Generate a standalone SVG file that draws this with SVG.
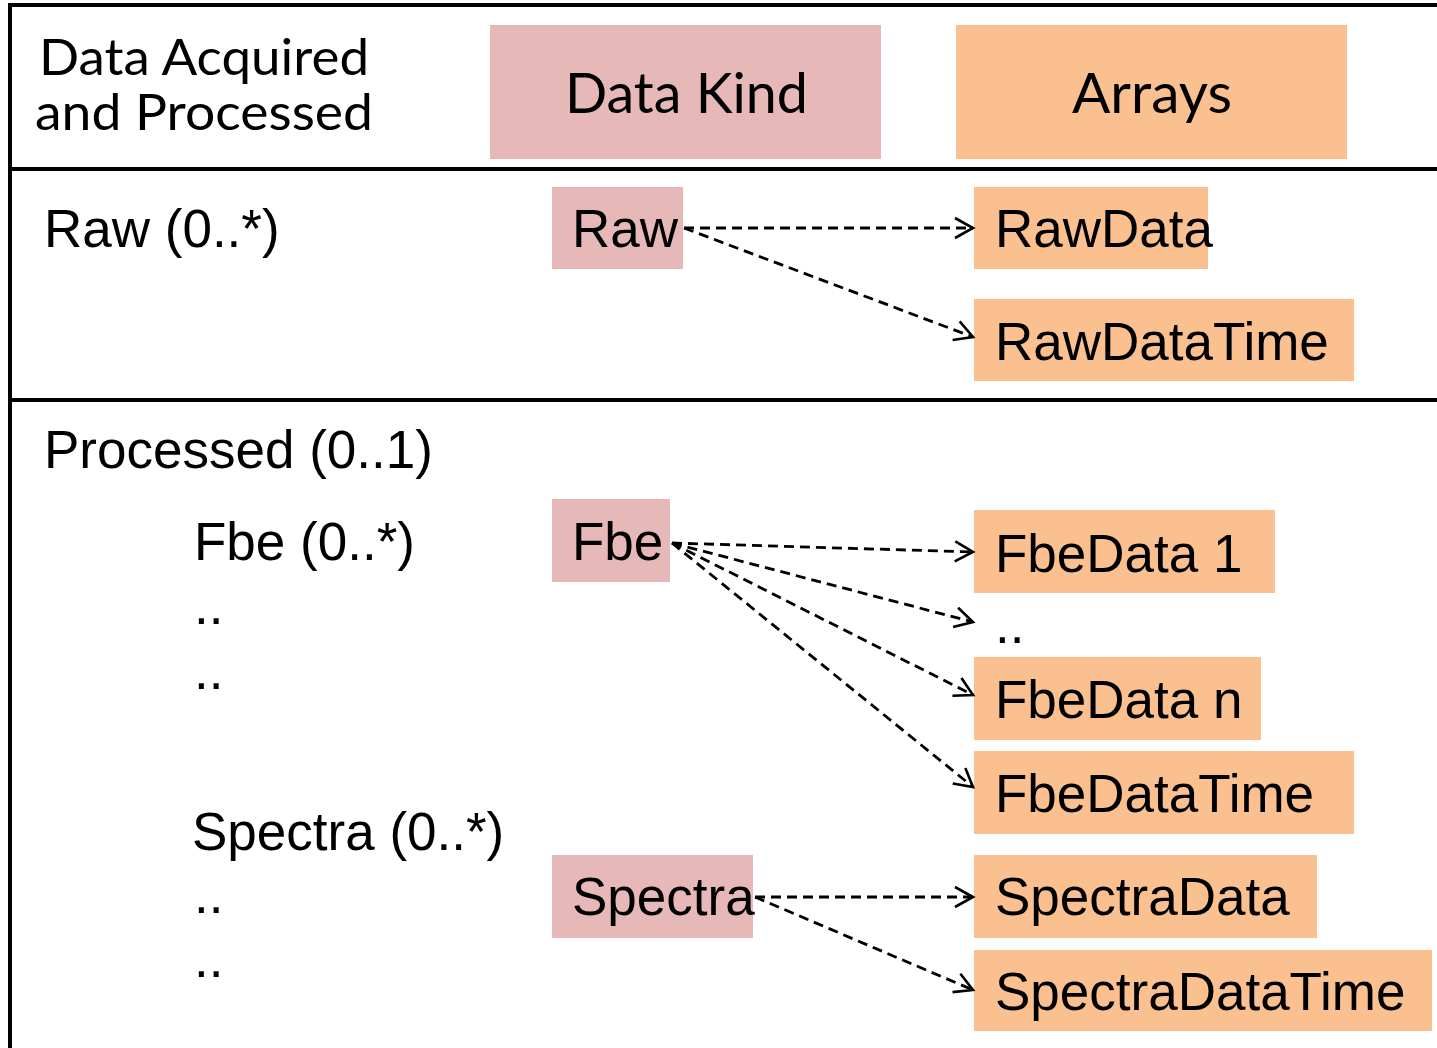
<svg xmlns="http://www.w3.org/2000/svg" width="1437" height="1048" viewBox="0 0 1437 1048">
<defs>
<style>
.frame{stroke:#000;stroke-width:4;fill:none}
.kind{fill:#E6B8B7}
.arr{fill:#FAC090}
.hdr{font-family:Lato,"Open Sans","Liberation Sans",sans-serif;fill:#000}
.lbl{font-family:"Liberation Sans",Arial,sans-serif;font-size:53px;fill:#000}
.con{stroke:#000;stroke-width:2.8;fill:none;stroke-dasharray:10 6;marker-end:url(#open)}
</style>
<marker id="open" markerUnits="userSpaceOnUse" markerWidth="24" markerHeight="26" refX="20" refY="12" orient="auto">
<path d="M2,2 L20,12 L2,22" fill="none" stroke="#000" stroke-width="2.6"/>
</marker>
</defs>
<rect width="1437" height="1048" fill="#fff"/>
<g id="frame">
<line class="frame" x1="8" y1="5" x2="1437" y2="5"/>
<line class="frame" x1="10" y1="3" x2="10" y2="1048"/>
<line class="frame" x1="8" y1="169" x2="1437" y2="169"/>
<line class="frame" x1="8" y1="400" x2="1437" y2="400"/>
</g>
<g id="header-title">
<text class="hdr" x="39" y="75" font-size="50" textLength="330" lengthAdjust="spacingAndGlyphs">Data Acquired</text>
<text class="hdr" x="35" y="130" font-size="50" textLength="338" lengthAdjust="spacingAndGlyphs">and Processed</text>
</g>
<g id="header-kind">
<rect class="kind" x="490" y="25" width="391" height="134"/>
<text class="hdr" x="565" y="113" font-size="57" textLength="243" lengthAdjust="spacingAndGlyphs">Data Kind</text>
</g>
<g id="header-arrays">
<rect class="arr" x="956" y="25" width="391" height="134"/>
<text class="hdr" x="1072" y="113" font-size="57" textLength="160" lengthAdjust="spacingAndGlyphs">Arrays</text>
</g>
<g id="labels">
<text class="lbl" x="44" y="247">Raw (0..*)</text>
<text class="lbl" x="44" y="468">Processed (0..1)</text>
<text class="lbl" x="194" y="560">Fbe (0..*)</text>
<text class="lbl" x="194" y="624">..</text>
<text class="lbl" x="194" y="689">..</text>
<text class="lbl" x="192" y="850">Spectra (0..*)</text>
<text class="lbl" x="194" y="913">..</text>
<text class="lbl" x="194" y="977">..</text>
<text class="lbl" x="995" y="643">..</text>
</g>
<g id="raw">
<rect class="kind" x="552" y="187" width="131" height="82"/>
<text class="lbl" x="572" y="247">Raw</text>
</g>
<g id="rawdata">
<rect class="arr" x="974" y="187" width="234" height="82"/>
<text class="lbl" x="995" y="247">RawData</text>
</g>
<g id="rawdatatime">
<rect class="arr" x="974" y="299" width="380" height="82"/>
<text class="lbl" x="995" y="360">RawDataTime</text>
</g>
<g id="fbe">
<rect class="kind" x="552" y="499" width="118" height="83"/>
<text class="lbl" x="572" y="560">Fbe</text>
</g>
<g id="fbedata1">
<rect class="arr" x="974" y="510" width="301" height="83"/>
<text class="lbl" x="995" y="572">FbeData 1</text>
</g>
<g id="fbedatan">
<rect class="arr" x="974" y="657" width="287" height="83"/>
<text class="lbl" x="995" y="718">FbeData n</text>
</g>
<g id="fbedatatime">
<rect class="arr" x="974" y="751" width="380" height="83"/>
<text class="lbl" x="995" y="812">FbeDataTime</text>
</g>
<g id="spectra">
<rect class="kind" x="552" y="855" width="201" height="83"/>
<text class="lbl" x="572" y="915">Spectra</text>
</g>
<g id="spectradata">
<rect class="arr" x="974" y="855" width="343" height="83"/>
<text class="lbl" x="995" y="915">SpectraData</text>
</g>
<g id="spectradatatime">
<rect class="arr" x="974" y="950" width="458" height="81"/>
<text class="lbl" x="995" y="1010">SpectraDataTime</text>
</g>
<g id="connectors">
<line class="con" x1="684" y1="228" x2="973" y2="228"/>
<line class="con" x1="684" y1="228" x2="973" y2="337"/>
<line class="con" x1="672" y1="543" x2="973" y2="552"/>
<line class="con" x1="672" y1="543" x2="973" y2="622"/>
<line class="con" x1="672" y1="543" x2="973" y2="695"/>
<line class="con" x1="672" y1="543" x2="973" y2="787"/>
<line class="con" x1="755" y1="897" x2="973" y2="897"/>
<line class="con" x1="755" y1="897" x2="973" y2="990"/>
</g>
</svg>
